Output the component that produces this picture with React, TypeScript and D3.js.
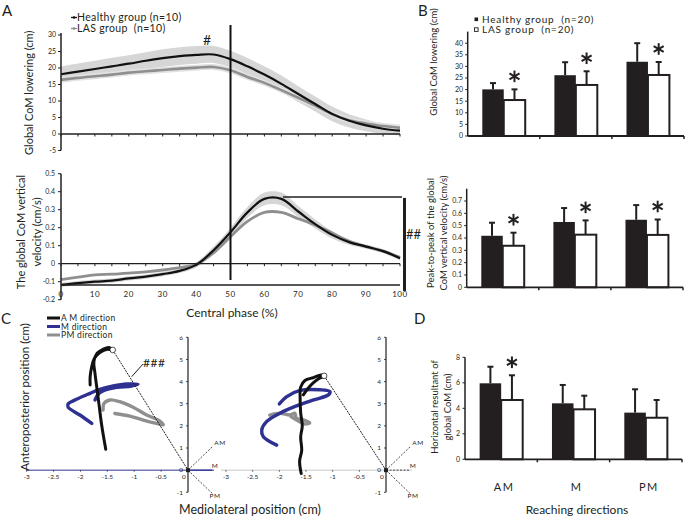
import React from "react";
import * as d3 from "d3";

// ---------- Panel A data ----------
const phase = [0, 5, 10, 15, 20, 25, 30, 35, 40, 45, 50, 55, 60, 65, 70, 75, 80, 85, 90, 95, 100];
const healthyLowering = [18.1, 18.9, 19.7, 20.5, 21.3, 22.2, 23.0, 23.6, 24.0, 24.1, 22.7, 20.5, 18.0, 15.2, 12.1, 9.1, 6.1, 4.0, 2.6, 1.6, 1.0];
const healthyLoweringSD = [2.4, 2.5, 2.5, 2.6, 2.6, 2.6, 2.7, 2.7, 2.7, 2.6, 2.5, 2.5, 2.5, 2.5, 2.4, 2.3, 2.2, 2.0, 1.8, 1.6, 1.5];
const lasLowering = [16.4, 17.0, 17.5, 18.0, 18.6, 19.0, 19.4, 19.8, 20.1, 20.3, 19.3, 17.3, 15.5, 13.3, 11.0, 8.6, 6.0, 4.2, 3.2, 2.4, 1.9];
const lasLoweringSD = [0.9, 0.9, 0.9, 0.9, 0.9, 0.9, 0.9, 0.9, 0.9, 0.9, 0.9, 0.9, 0.9, 0.9, 0.9, 0.9, 0.9, 0.9, 0.9, 0.9, 0.9];
const healthyVelocity = [-0.118, -0.108, -0.1, -0.094, -0.082, -0.072, -0.058, -0.04, -0.005, 0.075, 0.175, 0.285, 0.36, 0.36, 0.29, 0.22, 0.16, 0.12, 0.095, 0.07, 0.03];
const healthyVelocitySD = [0.012, 0.012, 0.012, 0.012, 0.012, 0.012, 0.012, 0.012, 0.015, 0.02, 0.025, 0.03, 0.035, 0.035, 0.03, 0.025, 0.02, 0.015, 0.012, 0.012, 0.012];
const lasVelocity = [-0.088, -0.075, -0.062, -0.058, -0.052, -0.045, -0.035, -0.022, -0.003, 0.06, 0.15, 0.235, 0.285, 0.285, 0.25, 0.215, 0.17, 0.125, 0.095, 0.07, 0.035];
const loweringTicks = [-5, 0, 5, 10, 15, 20, 25, 30];
const velocityTicks = [-0.2, -0.1, 0, 0.1, 0.2, 0.3, 0.4, 0.5];
const phaseLabels = [0, 10, 20, 30, 40, 50, 60, 70, 80, 90, 100];

// ---------- Panels B / D data ----------
const directions = ["AM", "M", "PM"];
const groups = ["Healthy", "LAS"];
const bLoweringHealthy = [20.1, 26.2, 32.0];
const bLoweringHealthySD = [2.7, 5.6, 8.0];
const bLoweringLAS = [15.5, 22.0, 26.3];
const bLoweringLASSD = [4.6, 5.9, 5.6];
const bLoweringSig = [true, true, true];
const bVelocityHealthy = [0.418, 0.53, 0.548];
const bVelocityHealthySD = [0.106, 0.113, 0.119];
const bVelocityLAS = [0.337, 0.427, 0.425];
const bVelocityLASSD = [0.106, 0.116, 0.125];
const bVelocitySig = [true, true, true];
const dResultantHealthy = [5.96, 4.39, 3.66];
const dResultantHealthySD = [1.3, 1.44, 1.83];
const dResultantLAS = [4.65, 3.92, 3.26];
const dResultantLASSD = [1.94, 1.07, 1.39];
const dResultantSig = [true, false, false];
const bLoweringTicks = [0, 5, 10, 15, 20, 25, 30, 35, 40];
const bVelocityTicks = [0, 0.1, 0.2, 0.3, 0.4, 0.5, 0.6, 0.7];
const dTicks = [0, 2, 4, 6, 8];

// ---------- Panel C data ----------
const cXTicks = [-3, -2.5, -2, -1.5, -1, -0.5, 0];
const cYTicks = [-1, 0, 1, 2, 3, 4, 5, 6];
const leftAM: [number, number][] = [[-1.53, 0.94], [-1.56, 1.36], [-1.61, 2.11], [-1.65, 2.87], [-1.69, 3.62], [-1.73, 4.37], [-1.75, 4.9], [-1.69, 5.28], [-1.58, 5.46], [-1.47, 5.54], [-1.4, 5.43], [-1.5, 5.46], [-1.64, 5.31], [-1.74, 5.05], [-1.79, 4.68], [-1.82, 4.22], [-1.82, 3.85]];
const leftM: [number, number][] = [[-1.79, 2.11], [-2.01, 2.49], [-2.23, 2.84], [-2.23, 2.99], [-2.04, 3.24], [-1.82, 3.47], [-1.64, 3.65], [-1.39, 3.8], [-1.14, 3.89], [-0.93, 3.88], [-1.05, 3.8], [-1.39, 3.71], [-1.64, 3.5], [-1.73, 3.17]];
const leftPM: [number, number][] = [[-1.58, 2.71], [-1.56, 3.02], [-1.45, 3.17], [-1.27, 3.09], [-1.02, 2.84], [-0.77, 2.49], [-0.53, 2.23], [-0.46, 2.04], [-0.59, 2.11], [-0.83, 2.26], [-1.08, 2.44], [-1.36, 2.56]];
const leftPeak: [number, number] = [-1.4, 5.43];
const rightAM: [number, number][] = [[-1.59, -0.15], [-1.62, 0.4], [-1.58, 0.9], [-1.6, 1.5], [-1.57, 2.0], [-1.6, 2.6], [-1.61, 3.2], [-1.6, 3.75], [-1.52, 4.05], [-1.36, 4.18], [-1.22, 4.3], [-1.16, 4.26], [-1.25, 4.15], [-1.36, 3.95], [-1.46, 3.7], [-1.55, 3.4]];
const rightM: [number, number][] = [[-2.05, 1.13], [-2.3, 1.51], [-2.33, 1.81], [-2.24, 2.19], [-1.99, 2.57], [-1.68, 2.9], [-1.36, 3.17], [-1.08, 3.4], [-1.05, 3.55], [-1.24, 3.63], [-1.61, 3.6], [-1.86, 3.32], [-2.0, 2.99]];
const rightPM: [number, number][] = [[-2.18, 2.49], [-1.99, 2.57], [-1.8, 2.49], [-1.71, 2.57], [-1.68, 2.34], [-1.55, 2.27], [-1.43, 2.14], [-1.52, 2.08], [-1.65, 2.23], [-1.78, 2.42]];
const rightPeak: [number, number] = [-1.16, 4.26];
const dirVectors: [string, number, number][] = [["AM", 0.45, 1.05], ["M", 0.45, 0], ["PM", 0.45, -1.05]];

const FONT = "Lato, 'Open Sans', sans-serif";
const INK = "#231f20";
const NAVY = "#2e3192";
const GREY = "#8f8f8f";

function fmtV(v: number) {
  if (v === 0) return "0";
  return v.toFixed(1);
}

function Star({ x, y }: { x: number; y: number }) {
  const r = 5.8;
  const a = [90, 30, -30].map((d) => (d * Math.PI) / 180);
  return (
    <g stroke={INK} strokeWidth={2} strokeLinecap="butt">
      {a.map((t, i) => (
        <line key={i} x1={x - r * Math.cos(t)} y1={y - r * Math.sin(t)} x2={x + r * Math.cos(t)} y2={y + r * Math.sin(t)} />
      ))}
    </g>
  );
}

function BarPanel({
  x0, x1, yScale, ticks, tickFmt, healthy, healthySD, las, lasSD, sig, labelX,
}: {
  x0: number; x1: number; yScale: d3.ScaleLinear<number, number>; ticks: number[]; tickFmt: (v: number) => string;
  healthy: number[]; healthySD: number[]; las: number[]; lasSD: number[]; sig: boolean[]; labelX: number;
}) {
  const xb = d3.scaleBand<string>().domain(directions).range([x0, x1]).padding(0);
  const xs = d3.scaleBand<string>().domain(groups).range([0, xb.bandwidth()]).paddingInner(0).paddingOuter(0.68);
  const [yBot, yTop] = yScale.range();
  const bars: JSX.Element[] = [];
  directions.forEach((d, i) => {
    [0, 1].forEach((g) => {
      const val = g === 0 ? healthy[i] : las[i];
      const sd = g === 0 ? healthySD[i] : lasSD[i];
      const bx = (xb(d) as number) + (xs(groups[g]) as number);
      const bw = xs.bandwidth();
      const cx = bx + bw / 2;
      bars.push(
        <g key={d + g}>
          <line x1={cx} x2={cx} y1={yScale(val)} y2={yScale(val + sd)} stroke={INK} strokeWidth={2} />
          <line x1={cx - 3} x2={cx + 3} y1={yScale(val + sd)} y2={yScale(val + sd)} stroke={INK} strokeWidth={2} />
          <rect x={bx} y={yScale(val)} width={bw} height={yBot - yScale(val)} fill={g === 0 ? INK : "#fff"} stroke={INK} strokeWidth={g === 0 ? 0 : 2} />
        </g>
      );
      if (g === 1 && sig[i]) bars.push(<Star key={"s" + d} x={cx} y={yScale(val + sd) - 13} />);
    });
  });
  return (
    <g>
      {bars}
      <line x1={x0} x2={x0} y1={yBot} y2={yTop} stroke={INK} strokeWidth={1.5} />
      {ticks.map((t) => (
        <g key={t}>
          <line x1={x0 - 2.5} x2={x0} y1={yScale(t)} y2={yScale(t)} stroke={INK} strokeWidth={1} />
          <text x={labelX} y={yScale(t)} dy="0.35em" textAnchor="end" fontSize={7} fill={INK}>{tickFmt(t)}</text>
        </g>
      ))}
      <line x1={x0} x2={x1} y1={yBot} y2={yBot} stroke={INK} strokeWidth={1.8} />
      {directions.map((d) => (
        <line key={d} x1={(xb(d) as number) + xb.bandwidth()} x2={(xb(d) as number) + xb.bandwidth()} y1={yBot} y2={yBot + 3} stroke={INK} strokeWidth={1.5} />
      ))}
    </g>
  );
}

function Trajectory({ xs, ys, am, m, pm, peak, xAxisColor, xAxisFrom, xAxisTo, mSolid }: {
  xs: d3.ScaleLinear<number, number>; ys: d3.ScaleLinear<number, number>;
  am: [number, number][]; m: [number, number][]; pm: [number, number][]; peak: [number, number];
  xAxisColor: string; xAxisFrom: number; xAxisTo: number; mSolid: boolean;
}) {
  const line = d3.line<[number, number]>().x((d) => xs(d[0])).y((d) => ys(d[1])).curve(d3.curveCatmullRom.alpha(0.5));
  const ox = xs(0), oy = ys(0);
  return (
    <g>
      <line x1={xAxisFrom} x2={xAxisTo} y1={oy} y2={oy} stroke={xAxisColor} strokeWidth={1} />
      {cXTicks.map((t) => (
        <g key={t}>
          {t !== 0 && <line x1={xs(t)} x2={xs(t)} y1={oy} y2={oy + 1.5} stroke={INK} strokeWidth={0.8} />}
          <text x={t === 0 ? xs(t) - 4 : xs(t)} y={oy + 9} textAnchor="middle" fontSize={6.5} fill={INK}>{t}</text>
        </g>
      ))}
      <line x1={ox} x2={ox} y1={ys(-1)} y2={ys(6)} stroke={INK} strokeWidth={1.2} />
      {cYTicks.map((t) => (
        <g key={t}>
          <line x1={ox - 2} x2={ox} y1={ys(t)} y2={ys(t)} stroke={INK} strokeWidth={0.8} />
          <text x={ox - 5} y={ys(t)} dy="0.35em" textAnchor="end" fontSize={6.5} fill={INK}>{t}</text>
        </g>
      ))}
      {dirVectors.map(([lab, dx, dy]) => (
        <g key={lab}>
          <line x1={ox} y1={oy} x2={xs(dx)} y2={ys(dy)} stroke={lab === "M" && mSolid ? NAVY : INK} strokeWidth={lab === "M" && mSolid ? 1.2 : 0.8} strokeDasharray={lab === "M" && mSolid ? undefined : "2,1.5"} />
          <text x={xs(dx) + (lab === "AM" ? 8 : 3)} y={ys(dy) + (lab === "PM" ? 5 : -2)} textAnchor="middle" fontSize={6.5} letterSpacing={0.6} fill={INK}>{lab}</text>
        </g>
      ))}
      <path d={line(pm) as string} fill="none" stroke={GREY} strokeWidth={3.4} strokeLinejoin="round" strokeLinecap="round" />
      <path d={line(m) as string} fill="none" stroke={NAVY} strokeWidth={3.4} strokeLinejoin="round" strokeLinecap="round" />
      <path d={line(am) as string} fill="none" stroke="#111" strokeWidth={3} strokeLinejoin="round" strokeLinecap="round" />
      <line x1={xs(peak[0])} y1={ys(peak[1])} x2={ox} y2={oy} stroke={INK} strokeWidth={1} strokeDasharray="2,1" />
      <circle cx={xs(peak[0])} cy={ys(peak[1])} r={2.8} fill="#fff" stroke={INK} strokeWidth={0.8} />
      <rect x={ox - 2} y={oy - 2} width={4} height={4} fill={INK} />
    </g>
  );
}

export default function App() {
  // Panel A scales
  const xA = d3.scaleLinear().domain([0, 100]).range([61, 400]);
  const yA1 = d3.scaleLinear().domain([-5, 30]).range([150.5, 35]);
  const yA2 = d3.scaleLinear().domain([-0.2, 0.5]).range([299.7, 173.7]);
  const curve = d3.curveCatmullRom.alpha(0.5);

  const lineA1 = (vals: number[]) => d3.line<number>().x((_, i) => xA(phase[i])).y((v) => yA1(v)).curve(curve)(vals) as string;
  const bandA1 = (vals: number[], sd: number[]) =>
    d3.area<number>().x((_, i) => xA(phase[i])).y0((v, i) => yA1(v - sd[i])).y1((v, i) => yA1(v + sd[i])).curve(curve)(vals) as string;
  const lineA2 = (vals: number[]) => d3.line<number>().x((_, i) => xA(phase[i])).y((v) => yA2(v)).curve(curve)(vals) as string;
  const bandA2 = (vals: number[], sd: number[]) =>
    d3.area<number>().x((_, i) => xA(phase[i])).y0((v, i) => yA2(v - sd[i])).y1((v, i) => yA2(v + sd[i])).curve(curve)(vals) as string;

  const peakVel = d3.max(healthyVelocity) as number;
  const minVel = d3.min(healthyVelocity) as number;

  // Panel B / D scales
  const yB1 = d3.scaleLinear().domain([0, 45]).range([136, 31.6]);
  const yB2 = d3.scaleLinear().domain([0, 0.8]).range([287.3, 188.7]);
  const yD = d3.scaleLinear().domain([0, 8]).range([459.3, 357.3]);
  const xbD = d3.scaleBand<string>().domain(directions).range([465, 682]);

  // Panel C scales
  const yC = d3.scaleLinear().domain([-1, 6]).range([492.3, 337.3]);
  const xCL = d3.scaleLinear().domain([-3, 0]).range([26.7, 188]);
  const xCR = d3.scaleLinear().domain([-3, 0]).range([226, 386]);

  return (
    <svg width={685} height={519} viewBox="0 0 685 519" style={{ position: "absolute", left: 0, top: 0, background: "#fff" }} fontFamily={FONT}>
      <rect x={0} y={0} width={685} height={519} fill="#fff" />
      {/* Panel letters */}
      <text x={2} y={16} fontSize={15} fill={INK}>A</text>
      <text x={418} y={16} fontSize={15} fill={INK}>B</text>
      <text x={1} y={324} fontSize={15} fill={INK}>C</text>
      <text x={414} y={324} fontSize={15} fill={INK}>D</text>

      {/* ===== Panel A top ===== */}
      <path d={bandA1(healthyLowering, healthyLoweringSD)} fill="#d6d6d6" />
      <path d={bandA1(lasLowering, lasLoweringSD)} fill="#e2e2e2" />
      <path d={lineA1(lasLowering)} fill="none" stroke={GREY} strokeWidth={2.6} />
      <path d={lineA1(healthyLowering)} fill="none" stroke="#111" strokeWidth={2.2} />
      <line x1={xA(0)} x2={xA(0)} y1={yA1(-5)} y2={33} stroke={INK} strokeWidth={1.5} />
      {loweringTicks.map((t) => (
        <g key={t}>
          <line x1={xA(0) - 3} x2={xA(0)} y1={yA1(t)} y2={yA1(t)} stroke={INK} strokeWidth={1} />
          <text x={56} y={yA1(t)} dy="0.35em" textAnchor="end" fontSize={7} fill={INK}>{t}</text>
        </g>
      ))}
      <line x1={xA(0)} x2={xA(100)} y1={yA1(0)} y2={yA1(0)} stroke={INK} strokeWidth={1.3} />
      {phase.map((p) => (
        <line key={p} x1={xA(p)} x2={xA(p)} y1={yA1(0)} y2={yA1(0) + 2.5} stroke={INK} strokeWidth={1} />
      ))}
      <text x={207} y={45} textAnchor="middle" fontSize={14} fill={INK}>#</text>
      <text transform={`translate(33,${yA1(12.5)}) rotate(-90)`} textAnchor="middle" fontSize={11} fill={INK}>Global CoM lowering (cm)</text>
      {/* legend A */}
      <line x1={71} x2={77} y1={17.5} y2={17.5} stroke="#111" strokeWidth={1.3} />
      <circle cx={74} cy={17.5} r={1.3} fill="#111" />
      <text x={77} y={21} fontSize={10.5} letterSpacing={0.35} fill={INK}>Healthy group (n=10)</text>
      <line x1={71} x2={77} y1={28.5} y2={28.5} stroke={GREY} strokeWidth={1.3} />
      <circle cx={74} cy={28.5} r={1.3} fill={GREY} />
      <text x={77} y={32} fontSize={10.5} letterSpacing={0.35} fill={INK} style={{ whiteSpace: "pre" }}>{"LAS group  (n=10)"}</text>

      {/* ===== Panel A bottom ===== */}
      <path d={bandA2(healthyVelocity, healthyVelocitySD)} fill="#d6d6d6" />
      <path d={lineA2(lasVelocity)} fill="none" stroke={GREY} strokeWidth={2.8} />
      <path d={lineA2(healthyVelocity)} fill="none" stroke="#111" strokeWidth={2.2} />
      <line x1={xA(0)} x2={xA(0)} y1={yA2(-0.2)} y2={yA2(0.5)} stroke={INK} strokeWidth={1.5} />
      {velocityTicks.map((t) => (
        <g key={t}>
          <line x1={xA(0) - 3} x2={xA(0)} y1={yA2(t)} y2={yA2(t)} stroke={INK} strokeWidth={1} />
          <text x={55} y={yA2(t)} dy="0.35em" textAnchor="end" fontSize={7} fill={INK}>{fmtV(t)}</text>
        </g>
      ))}
      <line x1={xA(0)} x2={xA(100)} y1={yA2(0)} y2={yA2(0)} stroke={INK} strokeWidth={1.3} />
      {phase.map((p) => (
        <line key={p} x1={xA(p)} x2={xA(p)} y1={yA2(0)} y2={yA2(0) + 2.5} stroke={INK} strokeWidth={1} />
      ))}
      {phaseLabels.map((p) => (
        <text key={p} x={xA(p)} y={297} textAnchor="middle" fontSize={8} letterSpacing={0.6} fill={INK}>{p}</text>
      ))}
      <line x1={xA(0)} x2={xA(100)} y1={yA2(minVel)} y2={yA2(minVel)} stroke={INK} strokeWidth={1.5} />
      <line x1={xA(65.5)} x2={402} y1={yA2(peakVel + 0.01)} y2={yA2(peakVel + 0.01)} stroke={INK} strokeWidth={1.5} />
      <line x1={404.5} x2={404.5} y1={yA2(peakVel) - 1} y2={yA2(minVel) + 6} stroke={INK} strokeWidth={3} />
      <text x={406} y={239} fontSize={13} fill={INK}>##</text>
      <text transform={`translate(25,232) rotate(-90)`} textAnchor="middle" fontSize={11} fill={INK}>The global CoM vertical</text>
      <text transform={`translate(41,232) rotate(-90)`} textAnchor="middle" fontSize={11} fill={INK}>velocity (cm/s)</text>
      <text x={232} y={317} textAnchor="middle" fontSize={12} fill={INK}>Central phase (%)</text>

      {/* vertical 50% line */}
      <line x1={xA(50)} x2={xA(50)} y1={25} y2={280} stroke="#111" strokeWidth={2} />

      {/* ===== Panel B ===== */}
      <rect x={474.5} y={17.5} width={3.6} height={3.6} fill={INK} />
      <text x={482} y={22.5} fontSize={10} letterSpacing={0.8} fill={INK} style={{ whiteSpace: "pre" }}>{"Healthy group  (n=20)"}</text>
      <rect x={474.5} y={27.8} width={3.6} height={3.6} fill="#fff" stroke={INK} strokeWidth={0.9} />
      <text x={482} y={33} fontSize={10} letterSpacing={0.8} fill={INK} style={{ whiteSpace: "pre" }}>{"LAS group  (n=20)"}</text>
      <BarPanel x0={467.7} x1={684} yScale={yB1} ticks={bLoweringTicks} tickFmt={(v) => String(v)} healthy={bLoweringHealthy} healthySD={bLoweringHealthySD} las={bLoweringLAS} lasSD={bLoweringLASSD} sig={bLoweringSig} labelX={463} />
      <text transform={`translate(437,62) rotate(-90)`} textAnchor="middle" fontSize={9.5} fill={INK}>Global CoM lowering (cm)</text>
      <BarPanel x0={466.7} x1={683} yScale={yB2} ticks={bVelocityTicks} tickFmt={(v) => (v === 0 ? "0" : v.toFixed(1))} healthy={bVelocityHealthy} healthySD={bVelocityHealthySD} las={bVelocityLAS} lasSD={bVelocityLASSD} sig={bVelocitySig} labelX={462} />
      <text transform={`translate(434,233) rotate(-90)`} textAnchor="middle" fontSize={9.5} fill={INK}>Peak-to-peak of the global</text>
      <text transform={`translate(447,233) rotate(-90)`} textAnchor="middle" fontSize={9.5} fill={INK}>CoM vertical velocity (cm/s)</text>

      {/* ===== Panel D ===== */}
      <BarPanel x0={465} x1={682} yScale={yD} ticks={dTicks} tickFmt={(v) => String(v)} healthy={dResultantHealthy} healthySD={dResultantHealthySD} las={dResultantLAS} lasSD={dResultantLASSD} sig={dResultantSig} labelX={460} />
      <text transform={`translate(438,407) rotate(-90)`} textAnchor="middle" fontSize={9.5} fill={INK}>Horizontal resultant of</text>
      <text transform={`translate(451,407) rotate(-90)`} textAnchor="middle" fontSize={9.5} fill={INK}>global CoM (cm)</text>
      {directions.map((d) => (
        <text key={d} x={(xbD(d) as number) + xbD.bandwidth() / 2 + 3} y={491} textAnchor="middle" fontSize={11} letterSpacing={1.5} fill={INK}>{d}</text>
      ))}
      <text x={577} y={514} textAnchor="middle" fontSize={12} fill={INK}>Reaching directions</text>

      {/* ===== Panel C ===== */}
      <Trajectory xs={xCL} ys={yC} am={leftAM} m={leftM} pm={leftPM} peak={leftPeak} xAxisColor={NAVY} xAxisFrom={26} xAxisTo={214} mSolid={true} />
      <Trajectory xs={xCR} ys={yC} am={rightAM} m={rightM} pm={rightPM} peak={rightPeak} xAxisColor="#c8c8c8" xAxisFrom={221} xAxisTo={412} mSolid={false} />
      <line x1={131.7} y1={376.7} x2={143} y2={364} stroke={INK} strokeWidth={1} />
      <text x={143} y={366.5} fontSize={12} letterSpacing={0.5} fill={INK}>###</text>
      <line x1={47} x2={60} y1={318} y2={318} stroke="#111" strokeWidth={3} />
      <text x={61} y={321} fontSize={8.5} letterSpacing={0.3} fill={INK}>A M direction</text>
      <line x1={47} x2={60} y1={326.5} y2={326.5} stroke={NAVY} strokeWidth={3} />
      <text x={61} y={329.5} fontSize={8.5} letterSpacing={0.3} fill={INK}>M direction</text>
      <line x1={47} x2={60} y1={335} y2={335} stroke={GREY} strokeWidth={3} />
      <text x={61} y={338} fontSize={8.5} letterSpacing={0.3} fill={INK}>PM direction</text>
      <text transform={`translate(29,397) rotate(-90)`} textAnchor="middle" fontSize={11.5} fill={INK}>Anteroposterior position (cm)</text>
      <text x={250} y={514} textAnchor="middle" fontSize={12.5} fill={INK}>Mediolateral position (cm)</text>
    </svg>
  );
}
